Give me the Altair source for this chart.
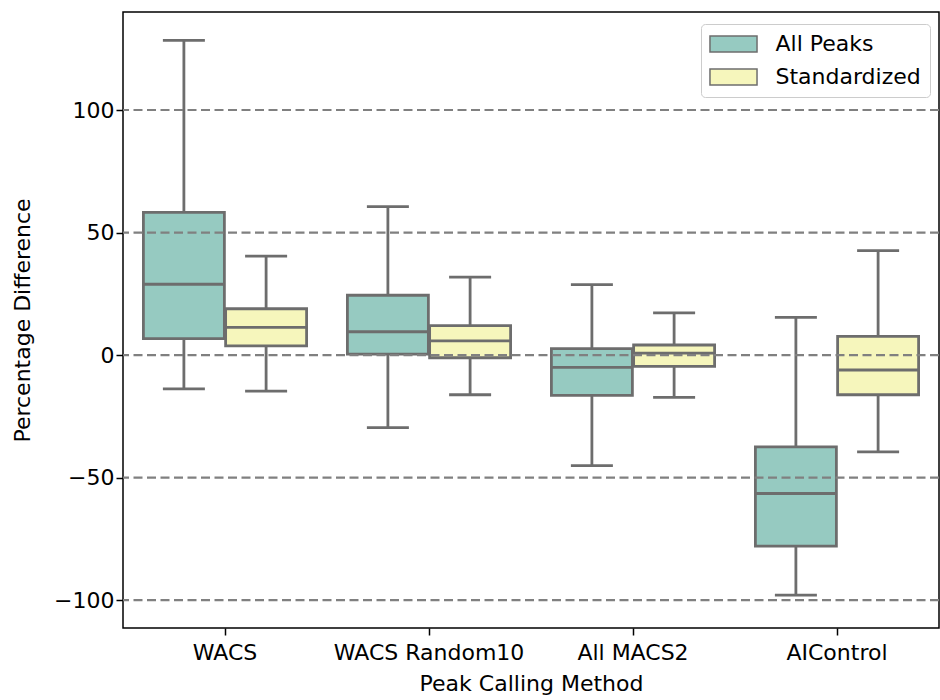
import altair as alt
import pandas as pd

methods = ["WACS", "WACS Random10", "All MACS2", "AIControl"]
groups = ["All Peaks", "Standardized"]

# All Peaks
all_wlo = [-13.8, -29.6, -45.1, -98.0]
all_q1 = [6.7, 0.4, -16.5, -78.0]
all_med = [28.9, 9.5, -5.0, -56.5]
all_q3 = [58.2, 24.4, 2.6, -37.5]
all_whi = [128.4, 60.6, 28.7, 15.4]
# Standardized
std_wlo = [-14.7, -16.2, -17.3, -39.5]
std_q1 = [3.7, -1.1, -4.6, -16.2]
std_med = [11.3, 5.8, 0.8, -6.1]
std_q3 = [18.9, 12.0, 4.1, 7.6]
std_whi = [40.4, 31.8, 17.2, 42.6]

grid_values = [-100, -50, 0, 50, 100]

rows = []
for i, m in enumerate(methods):
    rows.append(dict(method=m, group=groups[0], wlo=all_wlo[i], q1=all_q1[i],
                     med=all_med[i], q3=all_q3[i], whi=all_whi[i]))
    rows.append(dict(method=m, group=groups[1], wlo=std_wlo[i], q1=std_q1[i],
                     med=std_med[i], q3=std_q3[i], whi=std_whi[i]))
df = pd.DataFrame(rows)
gdf = pd.DataFrame({"v": grid_values})

TEAL = "#96cac1"
YELLOW = "#f6f6bc"
EDGE = "#6d6d6d"
FONT = "DejaVu Sans"

yscale = alt.Scale(domain=[-111.4, 140], nice=False, zero=False)
yaxis = alt.Axis(values=grid_values, grid=False, tickSize=7, tickWidth=1.5,
                 tickColor="black", labelFontSize=22, labelColor="black",
                 labelPadding=2, titleFontSize=22, titleFontWeight="normal",
                 titleColor="black", titleX=-101, titleBaseline="middle",
                 domain=False, labelFont=FONT, titleFont=FONT)
YT = "Percentage Difference"

xenc = alt.X("method:N", sort=methods,
             scale=alt.Scale(paddingInner=0.2, paddingOuter=0.1),
             axis=alt.Axis(title="Peak Calling Method", labelAngle=0, labelFontSize=22,
                           labelColor="black", titleFontSize=22, titleFontWeight="normal",
                           titleColor="black", tickSize=7, tickWidth=1.5, tickColor="black",
                           labelPadding=7, titleY=45, labelLimit=0, domain=False,
                           bandPosition=0.5, labelFont=FONT, titleFont=FONT))
xoff = alt.XOffset("group:N", sort=groups,
                   scale=alt.Scale(paddingInner=0.015, paddingOuter=0))

base = alt.Chart(df)

whisk = base.mark_rule(color=EDGE, strokeWidth=2.8).encode(
    x=xenc, xOffset=xoff,
    y=alt.Y("wlo:Q", scale=yscale, axis=yaxis, title=YT),
    y2="whi:Q",
)
cap_lo = base.mark_tick(color=EDGE, size=42, thickness=2.8, opacity=1).encode(
    x=xenc, xOffset=xoff,
    y=alt.Y("wlo:Q", scale=yscale, axis=yaxis, title=YT),
)
cap_hi = base.mark_tick(color=EDGE, size=42, thickness=2.8, opacity=1).encode(
    x=xenc, xOffset=xoff,
    y=alt.Y("whi:Q", scale=yscale, axis=yaxis, title=YT),
)
box = base.mark_bar(stroke=EDGE, strokeWidth=2.8, opacity=1).encode(
    x=xenc, xOffset=xoff,
    y=alt.Y("q1:Q", scale=yscale, axis=yaxis, title=YT),
    y2="q3:Q",
    color=alt.Color("group:N", sort=groups,
                    scale=alt.Scale(domain=groups, range=[TEAL, YELLOW]),
                    legend=alt.Legend(
                        title=None, orient="none", legendX=578, legendY=12,
                        labelFontSize=22, labelFont=FONT, labelColor="black",
                        symbolType="M-2.94,-1L2.94,-1L2.94,1L-2.94,1Z",
                        symbolSize=256, symbolStrokeColor=EDGE,
                        symbolStrokeWidth=1.5, symbolOpacity=1,
                        symbolOffset=12.5,
                        padding=9, strokeColor="#cccccc", fillColor="white",
                        cornerRadius=4, rowPadding=11, labelOffset=31,
                    )),
)
med = base.mark_tick(color=EDGE, size=81, thickness=2.8, opacity=1).encode(
    x=xenc, xOffset=xoff,
    y=alt.Y("med:Q", scale=yscale, axis=yaxis, title=YT),
)
grid = alt.Chart(gdf).mark_rule(color="#808080", strokeWidth=2.2,
                                strokeDash=[9, 4.5]).encode(
    y=alt.Y("v:Q", scale=yscale, axis=yaxis, title=YT),
)

chart = alt.layer(whisk, cap_lo, cap_hi, box, med, grid).properties(
    width=816, height=616,
    autosize=alt.AutoSizeParams(type="none"),
    padding={"left": 123, "top": 12, "right": 1, "bottom": 72},
).configure(
    font=FONT, background="white",
    view=alt.ViewConfig(stroke="black", strokeWidth=1.5),
)

chart.save("out.html", embed_options={"renderer": "svg", "actions": False})
